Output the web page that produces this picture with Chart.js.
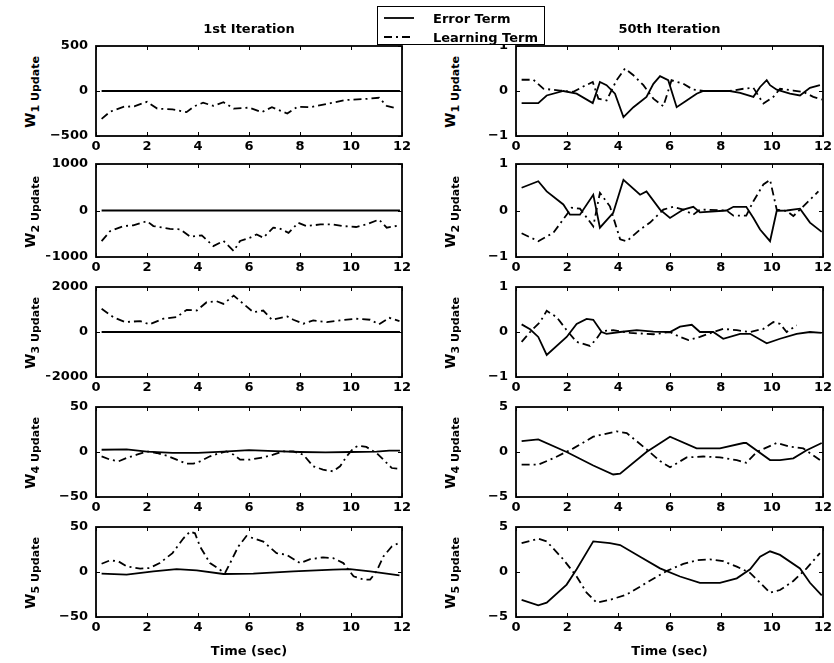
<!DOCTYPE html>
<html>
<head>
<meta charset="utf-8">
<script src="https://cdn.jsdelivr.net/npm/chart.js@4.4.0/dist/chart.umd.min.js"></script>
<style>
    body { margin: 0; background: #fff; }
    #stage {
        position: relative; width: 834px; height: 663px; overflow: hidden;
        font-family: 'DejaVu Sans', sans-serif; font-weight: bold; color: #000;
    }
    #stage canvas { position: absolute; }
    .title, .xlab { position: absolute; font-size: 13px; line-height: 15px; white-space: nowrap; transform: translateX(-50%); }
    .ylab {
        position: absolute; font-size: 14px; line-height: 16px; white-space: nowrap;
        transform: translate(-50%, -50%) rotate(-90deg);
    }
    .ylab span { font-size: 11px; vertical-align: -4px; }
    #legend {
        position: absolute; left: 377px; top: 6px; width: 166px; height: 37px;
        border: 1px solid #000; background: #fff; z-index: 5; font-size: 13px;
    }
    #legend .item { position: absolute; left: 6px; height: 16px; display: flex; align-items: center; }
    #legend .item svg { margin-right: 19px; }
</style>
</head>
<body>
<div id="stage">
    <div id="legend"></div>
</div>
<script>
// ===========================
// DATA
// ===========================

const columnTitles = ['1st Iteration', '50th Iteration'];
const seriesNames = ['Error Term', 'Learning Term'];
const weightIndex = ['1', '2', '3', '4', '5'];
const xTickValues = [0, 2, 4, 6, 8, 10, 12];
const xAxisTitle = 'Time (sec)';

// symmetric y limits per row; ticks are -lim, 0, lim
const firstLimits = [500, 1000, 2000, 50, 50];
const lastLimits = [1, 1, 1, 5, 5];

// [time, value] pairs — 1st iteration
const errFirstW1 = [[0.22, 0], [11.92, 0]];
const learnFirstW1 = [[0.22, -310], [0.55, -230], [1.1, -175], [1.5, -170], [2.0, -120], [2.4, -195], [3.0, -205], [3.55, -235], [3.85, -170], [4.2, -130], [4.6, -165], [5.0, -125], [5.4, -195], [6.0, -185], [6.5, -235], [6.9, -180], [7.5, -250], [7.9, -175], [8.4, -180], [9.2, -135], [9.8, -100], [10.5, -90], [11.1, -75], [11.4, -165], [11.75, -190]];

const errFirstW2 = [[0.22, 0], [11.92, 0]];
const learnFirstW2 = [[0.22, -660], [0.55, -445], [1.07, -335], [1.46, -320], [2.0, -230], [2.25, -335], [2.9, -395], [3.3, -405], [3.7, -565], [4.15, -535], [4.6, -765], [5.0, -655], [5.4, -870], [5.65, -655], [6.04, -585], [6.3, -515], [6.56, -585], [6.95, -370], [7.2, -385], [7.55, -480], [7.93, -265], [8.26, -335], [8.8, -300], [9.3, -300], [9.7, -335], [10.2, -355], [10.6, -300], [11.1, -195], [11.4, -370], [11.9, -320]];

const errFirstW3 = [[0.22, 0], [11.92, 0]];
const learnFirstW3 = [[0.22, 1030], [0.68, 660], [1.14, 440], [1.73, 485], [2.1, 340], [2.64, 590], [3.16, 660], [3.56, 985], [3.95, 955], [4.34, 1325], [4.73, 1370], [5.0, 1250], [5.4, 1620], [5.78, 1250], [6.17, 880], [6.56, 955], [6.9, 545], [7.5, 690], [7.74, 545], [8.13, 370], [8.52, 515], [9.05, 440], [9.57, 515], [10.2, 590], [10.75, 545], [11.1, 340], [11.5, 630], [11.9, 485]];

const errFirstW4 = [[0.22, 2.5], [1.2, 3], [2.0, 0.5], [3.0, -1], [4.0, -1], [5.0, 0.5], [6.0, 2], [7.0, 1], [8.0, 0], [9.0, -0.5], [10.0, 0], [11.0, 0.5], [11.5, 1.5], [11.92, 1.5]];
const learnFirstW4 = [[0.22, -4.8], [0.55, -8.5], [0.88, -10.4], [1.2, -6.7], [1.6, -3], [2.0, 0.7], [2.38, -1.1], [2.77, -4], [3.16, -8.5], [3.55, -13], [3.82, -13], [4.08, -10.4], [4.47, -4.8], [4.86, -1.1], [5.12, 0.7], [5.4, -3], [5.65, -8.5], [6.04, -8.5], [6.56, -5.9], [6.95, -3], [7.35, 0.7], [7.74, 0.7], [8.13, -3], [8.52, -15.9], [8.9, -19.6], [9.3, -21.5], [9.57, -15.9], [9.83, -4.8], [10.1, 4.4], [10.3, 7], [10.6, 5.6], [11.0, -1.1], [11.27, -8.5], [11.6, -17.8], [11.9, -18.9]];

const errFirstW5 = [[0.22, -1.8], [1.2, -2.9], [2.25, 0.7], [3.16, 3.3], [3.95, 1.8], [5.0, -2.2], [6.17, -1.8], [7.74, 0.7], [9.3, 2.6], [9.96, 3.3], [10.75, 0.7], [11.9, -3.7]];
const learnFirstW5 = [[0.22, 9.2], [0.55, 12.9], [0.88, 11.8], [1.2, 6.3], [1.73, 3.7], [2.1, 4.4], [2.5, 9.9], [3.0, 21], [3.43, 37.5], [3.69, 44.9], [3.88, 43], [4.08, 28.3], [4.47, 9.9], [4.86, 2.6], [5.06, -1.1], [5.26, 9.9], [5.58, 28.3], [5.9, 40], [6.17, 37.5], [6.56, 33.8], [7.08, 21], [7.48, 19.1], [8.0, 9.9], [8.4, 14.3], [8.9, 16.2], [9.3, 15.4], [9.7, 9.9], [10.1, -4.8], [10.5, -8.5], [10.75, -8.5], [11.0, 0.7], [11.27, 17.3], [11.6, 28.3], [11.86, 32]];

// [time, value] pairs — 50th iteration
const errLastW1 = [[0.22, -0.27], [0.87, -0.27], [1.2, -0.1], [1.85, 0], [2.37, -0.06], [3.0, -0.27], [3.28, 0.2], [3.54, 0.13], [3.87, -0.06], [4.2, -0.58], [4.59, -0.36], [5.1, -0.13], [5.37, 0.16], [5.63, 0.33], [5.95, 0.24], [6.28, -0.36], [6.67, -0.21], [7.06, -0.06], [7.32, 0], [8.36, 0], [8.76, -0.04], [9.28, -0.13], [9.54, 0.09], [9.8, 0.24], [9.93, 0.13], [10.19, 0.03], [10.71, -0.06], [11.1, -0.1], [11.49, 0.07], [11.88, 0.13]];
const learnLastW1 = [[0.22, 0.25], [0.68, 0.25], [1.07, 0.05], [1.72, 0.01], [2.24, -0.02], [2.63, 0.1], [3.0, 0.2], [3.22, -0.17], [3.54, -0.21], [3.93, 0.24], [4.26, 0.5], [4.59, 0.35], [4.98, 0.13], [5.37, -0.17], [5.76, -0.34], [6.08, 0.24], [6.54, 0.16], [6.93, 0.03], [7.32, 0], [8.36, 0], [8.89, 0.05], [9.28, 0.07], [9.67, -0.28], [10.06, -0.13], [10.32, 0.05], [10.84, 0.01], [11.23, -0.02], [11.62, -0.13], [11.95, -0.19]];

const errLastW2 = [[0.22, 0.49], [0.87, 0.63], [1.2, 0.41], [1.85, 0.13], [2.11, -0.09], [2.5, -0.09], [3.02, 0.34], [3.28, -0.37], [3.8, -0.05], [4.2, 0.66], [4.85, 0.34], [5.1, 0.41], [5.63, 0.02], [6.02, -0.16], [6.54, 0.02], [6.93, 0.08], [7.19, -0.04], [8.23, 0], [8.5, 0.08], [9.0, 0.08], [9.28, -0.16], [9.54, -0.41], [9.93, -0.66], [10.19, -0.01], [10.58, 0], [11.1, 0.04], [11.49, -0.26], [11.95, -0.46]];
const learnLastW2 = [[0.22, -0.49], [0.87, -0.66], [1.46, -0.48], [1.98, -0.09], [2.18, 0.06], [2.5, 0.04], [3.02, -0.34], [3.28, 0.38], [3.67, 0.09], [4.07, -0.62], [4.33, -0.66], [4.85, -0.41], [5.24, -0.26], [5.76, 0.02], [6.15, 0.08], [6.54, 0.02], [6.93, -0.09], [7.19, 0.02], [8.23, 0], [8.5, -0.11], [9.0, -0.11], [9.28, 0.2], [9.67, 0.56], [9.93, 0.66], [10.19, 0.02], [10.58, -0.01], [10.84, -0.12], [11.23, 0.09], [11.82, 0.41]];

const errLastW3 = [[0.22, 0.17], [0.55, 0.06], [0.87, -0.11], [1.2, -0.51], [1.98, -0.11], [2.37, 0.18], [2.76, 0.29], [3.02, 0.27], [3.35, 0], [3.54, -0.04], [4.07, 0], [4.72, 0.04], [5.37, 0.01], [6.02, 0], [6.41, 0.12], [6.87, 0.16], [7.19, 0], [7.71, 0], [8.1, -0.15], [8.76, -0.04], [9.15, -0.04], [9.8, -0.25], [10.32, -0.15], [10.97, -0.04], [11.49, 0], [11.95, -0.02]];
const learnLastW3 = [[0.22, -0.22], [0.55, 0], [0.94, 0.22], [1.2, 0.47], [1.59, 0.33], [1.98, 0.04], [2.37, -0.22], [2.89, -0.31], [3.15, -0.15], [3.35, 0.02], [3.8, 0.04], [4.46, -0.02], [5.37, -0.05], [6.02, 0], [6.41, -0.11], [6.74, -0.18], [7.19, -0.11], [7.71, 0], [8.1, 0.07], [8.63, 0.04], [9.15, 0], [9.67, 0.07], [10.06, 0.22], [10.32, 0.18], [10.58, 0], [10.97, 0.15]];

const errLastW4 = [[0.22, 1.2], [0.87, 1.4], [1.98, 0], [3.02, -1.5], [3.8, -2.5], [4.07, -2.4], [5.1, 0], [6.02, 1.7], [7.06, 0.4], [7.97, 0.4], [8.89, 1.0], [9.0, 1.0], [9.93, -0.9], [10.32, -0.9], [10.84, -0.7], [11.36, 0.2], [11.95, 1.0]];
const learnLastW4 = [[0.22, -1.4], [0.87, -1.4], [1.46, -0.7], [2.24, 0.4], [3.02, 1.7], [3.93, 2.3], [4.33, 2.1], [5.1, 0.3], [5.63, -1.0], [6.02, -1.7], [6.67, -0.6], [7.32, -0.5], [7.97, -0.6], [8.63, -0.9], [9.0, -1.2], [9.41, 0], [10.19, 1.0], [10.71, 0.6], [11.23, 0.4], [11.88, -0.9]];

const errLastW5 = [[0.22, -3.1], [0.87, -3.7], [1.2, -3.4], [1.98, -1.4], [2.37, 0.3], [3.02, 3.4], [3.67, 3.2], [4.07, 3.0], [4.85, 1.7], [5.63, 0.4], [6.41, -0.5], [7.19, -1.2], [7.97, -1.2], [8.63, -0.7], [9.15, 0.3], [9.54, 1.7], [9.93, 2.3], [10.32, 1.9], [11.1, 0.4], [11.49, -1.2], [11.95, -2.6]];
const learnLastW5 = [[0.22, 3.2], [0.87, 3.7], [1.2, 3.4], [1.85, 1.4], [2.37, -0.5], [2.76, -2.3], [3.15, -3.4], [3.67, -3.1], [4.33, -2.5], [5.1, -1.2], [5.88, 0.1], [6.54, 0.9], [7.06, 1.3], [7.58, 1.4], [8.1, 1.2], [8.63, 0.6], [9.15, -0.1], [9.54, -1.2], [9.93, -2.3], [10.32, -2.0], [10.84, -1.0], [11.36, 0.4], [11.88, 2.1]];

const errorSeries = [
    [errFirstW1, errFirstW2, errFirstW3, errFirstW4, errFirstW5],
    [errLastW1, errLastW2, errLastW3, errLastW4, errLastW5]
];
const learningSeries = [
    [learnFirstW1, learnFirstW2, learnFirstW3, learnFirstW4, learnFirstW5],
    [learnLastW1, learnLastW2, learnLastW3, learnLastW4, learnLastW5]
];
const columnLimits = [firstLimits, lastLimits];

// ===========================
// LAYOUT
// ===========================

const COLS = [{ left: 96, right: 402 }, { left: 516, right: 823 }];
const ROWS = [
    { top: 46, bottom: 136 },
    { top: 164, bottom: 257 },
    { top: 287, bottom: 377 },
    { top: 407, bottom: 497 },
    { top: 527, bottom: 617 }
];
// top/right padding must cover the tick-label overhang chart.js reserves (label/2 + tick padding)
const PAD_LEFT = 50, PAD_TOP = 16, PAD_RIGHT = 16, PAD_BOTTOM = 22;
const DASH_DOT = [8, 4, 2, 4];
const LINE_W = 1.8;
const tickFont = { family: "'DejaVu Sans'", weight: 'bold', size: 13 };

// plain numbers, long minus like the original print
function tickLabel(value) {
    return value < 0 ? '\u2212' + Math.abs(value) : String(value);
}

// box round the plot with MATLAB-style inward ticks on all sides
const boxTicks = {
    id: 'boxTicks',
    afterDraw(chart) {
        const { ctx, chartArea: a, scales: { x, y } } = chart;
        ctx.save();
        ctx.strokeStyle = '#000';
        ctx.lineWidth = 1;
        ctx.beginPath();
        x.ticks.forEach(t => {
            const px = Math.round(x.getPixelForValue(t.value)) + 0.5;
            ctx.moveTo(px, a.bottom); ctx.lineTo(px, a.bottom - 4);
            ctx.moveTo(px, a.top); ctx.lineTo(px, a.top + 4);
        });
        y.ticks.forEach(t => {
            const py = Math.round(y.getPixelForValue(t.value)) + 0.5;
            ctx.moveTo(a.left, py); ctx.lineTo(a.left + 4, py);
            ctx.moveTo(a.right, py); ctx.lineTo(a.right - 4, py);
        });
        ctx.stroke();
        ctx.lineWidth = 1.8;
        ctx.strokeRect(a.left, a.top, a.right - a.left, a.bottom - a.top);
        ctx.restore();
    }
};

function toPoints(pairs) {
    return pairs.map(p => ({ x: p[0], y: p[1] }));
}

function buildPanel(col, row) {
    const stage = document.getElementById('stage');
    const c = COLS[col], r = ROWS[row];
    const lim = columnLimits[col][row];

    const canvas = document.createElement('canvas');
    const w = (c.right - c.left) + PAD_LEFT + PAD_RIGHT;
    const h = (r.bottom - r.top) + PAD_TOP + PAD_BOTTOM;
    canvas.width = w;
    canvas.height = h;
    canvas.style.left = (c.left - PAD_LEFT) + 'px';
    canvas.style.top = (r.top - PAD_TOP) + 'px';
    canvas.style.width = w + 'px';
    canvas.style.height = h + 'px';
    stage.appendChild(canvas);

    new Chart(canvas, {
        type: 'line',
        data: {
            datasets: [{
                label: seriesNames[0],
                data: toPoints(errorSeries[col][row]),
                borderColor: '#000',
                borderWidth: LINE_W,
                pointRadius: 0,
                tension: 0,
                fill: false
            }, {
                label: seriesNames[1],
                data: toPoints(learningSeries[col][row]),
                borderColor: '#000',
                borderWidth: LINE_W,
                borderDash: DASH_DOT,
                pointRadius: 0,
                tension: 0,
                fill: false
            }]
        },
        options: {
            responsive: false,
            animation: false,
            devicePixelRatio: 1,
            layout: {
                padding: { top: PAD_TOP, right: PAD_RIGHT, left: 0, bottom: 0 }
            },
            plugins: {
                legend: { display: false },
                tooltip: { enabled: false }
            },
            scales: {
                x: {
                    type: 'linear',
                    min: 0,
                    max: 12,
                    grid: { display: false, drawTicks: false },
                    border: { display: false },
                    ticks: { font: tickFont, color: '#000', padding: 3, maxRotation: 0, callback: tickLabel },
                    afterBuildTicks: scale => {
                        scale.ticks = xTickValues.map(v => ({ value: v }));
                    },
                    afterFit: scale => { scale.height = PAD_BOTTOM; }
                },
                y: {
                    min: -lim,
                    max: lim,
                    grid: { display: false, drawTicks: false },
                    border: { display: false },
                    ticks: { font: tickFont, color: '#000', padding: 8, stepSize: lim, callback: tickLabel },
                    afterFit: scale => { scale.width = PAD_LEFT; }
                }
            }
        },
        plugins: [boxTicks]
    });

    // y-axis label with subscript
    const ylab = document.createElement('div');
    ylab.className = 'ylab';
    ylab.innerHTML = 'W<span>' + weightIndex[row] + ' Update</span>';
    ylab.style.left = (c.left - 63) + 'px';
    ylab.style.top = ((r.top + r.bottom) / 2 + 1) + 'px';
    stage.appendChild(ylab);
}

function buildText() {
    const stage = document.getElementById('stage');
    COLS.forEach((c, i) => {
        const mid = (c.left + c.right) / 2;
        const t = document.createElement('div');
        t.className = 'title';
        t.textContent = columnTitles[i];
        t.style.left = mid + 'px';
        t.style.top = '21px';
        stage.appendChild(t);

        const xl = document.createElement('div');
        xl.className = 'xlab';
        xl.textContent = xAxisTitle;
        xl.style.left = mid + 'px';
        xl.style.top = '643px';
        stage.appendChild(xl);
    });

    // legend: line samples + names
    const legend = document.getElementById('legend');
    const dashes = ['', DASH_DOT.join(',')];
    const tops = [3, 22];
    seriesNames.forEach((name, i) => {
        const item = document.createElement('div');
        item.className = 'item';
        item.style.top = tops[i] + 'px';
        item.innerHTML =
            '<svg width="30" height="4"><line x1="0" y1="2" x2="30" y2="2" stroke="#000" stroke-width="1.8"' +
            (dashes[i] ? ' stroke-dasharray="' + dashes[i] + '"' : '') + '/></svg><span>' + name + '</span>';
        legend.appendChild(item);
    });
}

for (let col = 0; col < 2; col++) {
    for (let row = 0; row < 5; row++) {
        buildPanel(col, row);
    }
}
buildText();
</script>
</body>
</html>
